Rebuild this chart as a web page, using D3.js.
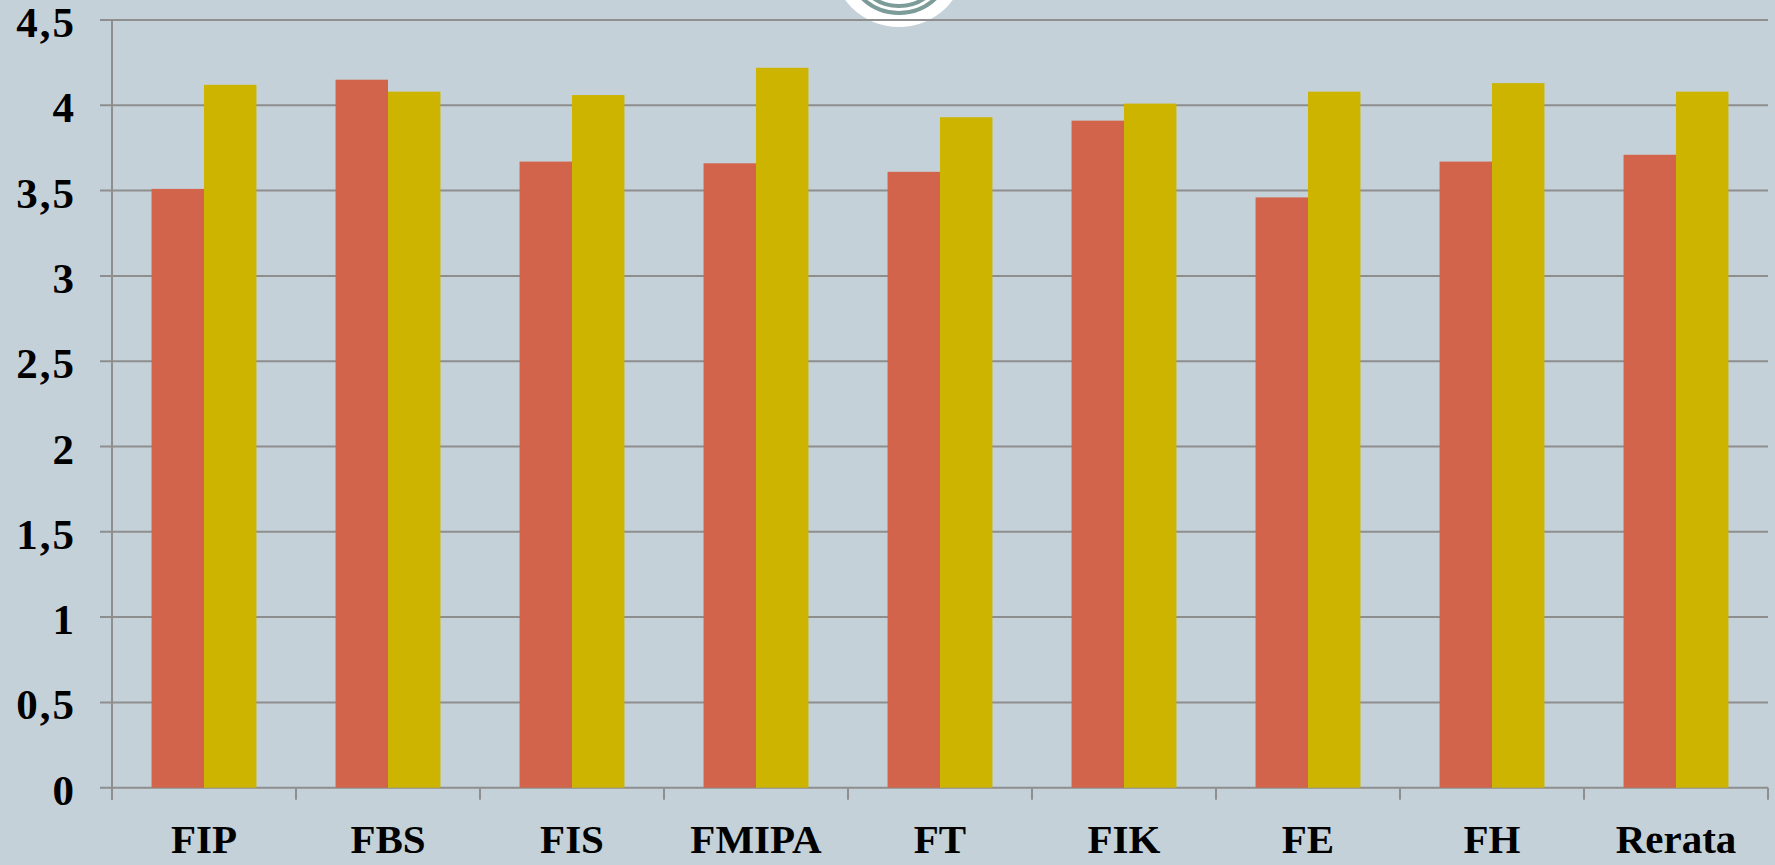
<!DOCTYPE html>
<html>
<head>
<meta charset="utf-8">
<script src="https://cdn.jsdelivr.net/npm/d3@7"></script>
<style>
    html, body { margin: 0; padding: 0; background: #c5d1d8; overflow: hidden; }
    svg { display: block; }
</style>
</head>
<body>
<div id="chart"></div>
<script>
// Chart data
const categories = ['FIP', 'FBS', 'FIS', 'FMIPA', 'FT', 'FIK', 'FE', 'FH', 'Rerata'];
const series1 = [3.51, 4.15, 3.67, 3.66, 3.61, 3.91, 3.46, 3.67, 3.71];
const series2 = [4.12, 4.08, 4.06, 4.22, 3.93, 4.01, 4.08, 4.13, 4.08];
const yTicks = [0, 0.5, 1, 1.5, 2, 2.5, 3, 3.5, 4, 4.5];
const seriesColors = ['#d2644b', '#ccb400'];

const width = 1775;
const height = 865;
const margin = { top: 20, right: 7, bottom: 77, left: 112 };

const svg = d3.select('#chart')
    .append('svg')
    .attr('width', width)
    .attr('height', height);

// Partial logo at the top (white circle with teal rings)
const logo = svg.append('g').attr('transform', 'translate(899,-40)');
logo.append('circle').attr('r', 67).attr('fill', '#ffffff');
logo.append('circle').attr('r', 53).attr('fill', 'none').attr('stroke', '#7b9c98').attr('stroke-width', 4);
logo.append('circle').attr('r', 46).attr('fill', 'none').attr('stroke', '#7b9c98').attr('stroke-width', 4);

const x = d3.scaleBand()
    .domain(categories)
    .range([margin.left, width - margin.right])
    .paddingInner(0.43)
    .paddingOuter(0.215);

const step = x.step();

const xSub = d3.scaleBand()
    .domain([0, 1])
    .range([0, x.bandwidth()]);

const y = d3.scaleLinear()
    .domain([0, 4.5])
    .range([height - margin.bottom - 0.3, margin.top]);

// Gridlines
svg.append('g')
    .selectAll('line')
    .data(yTicks)
    .join('line')
    .attr('x1', margin.left - 12)
    .attr('x2', width - margin.right)
    .attr('y1', d => y(d))
    .attr('y2', d => y(d))
    .attr('stroke', '#8e8e8e')
    .attr('stroke-width', 2);

// Y axis line
svg.append('line')
    .attr('x1', margin.left)
    .attr('x2', margin.left)
    .attr('y1', y(4.5))
    .attr('y2', y(0) + 12)
    .attr('stroke', '#8e8e8e')
    .attr('stroke-width', 2);

// Category boundary ticks
svg.append('g')
    .selectAll('line')
    .data(d3.range(categories.length + 1))
    .join('line')
    .attr('x1', i => margin.left + i * step)
    .attr('x2', i => margin.left + i * step)
    .attr('y1', y(0))
    .attr('y2', y(0) + 12)
    .attr('stroke', '#8e8e8e')
    .attr('stroke-width', 2);

// Bars
const groups = svg.append('g')
    .selectAll('g')
    .data(categories.map((c, i) => ({ cat: c, values: [series1[i], series2[i]] })))
    .join('g')
    .attr('transform', d => `translate(${x(d.cat)},0)`);

groups.selectAll('rect')
    .data(d => d.values)
    .join('rect')
    .attr('x', (d, i) => xSub(i))
    .attr('width', xSub.bandwidth())
    .attr('y', d => y(d))
    .attr('height', d => y(0) - y(d))
    .attr('fill', (d, i) => seriesColors[i]);

// Y tick labels
const fmt = d => String(d).replace('.', ',');
svg.append('g')
    .selectAll('text')
    .data(yTicks)
    .join('text')
    .attr('x', 76)
    .attr('y', d => y(d) + 17)
    .attr('text-anchor', 'end')
    .attr('font-family', 'Liberation Serif, serif')
    .attr('font-weight', 'bold')
    .attr('font-size', 43)
    .attr('letter-spacing', 2)
    .attr('fill', '#000')
    .text(fmt);

// X labels
svg.append('g')
    .selectAll('text')
    .data(categories)
    .join('text')
    .attr('x', d => x(d) + x.bandwidth() / 2)
    .attr('y', 853)
    .attr('text-anchor', 'middle')
    .attr('font-family', 'Liberation Serif, serif')
    .attr('font-weight', 'bold')
    .attr('font-size', 41)
    .attr('fill', '#000')
    .text(d => d);
</script>
</body>
</html>
